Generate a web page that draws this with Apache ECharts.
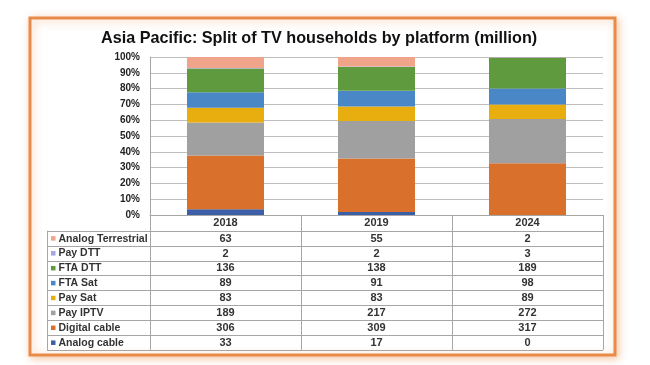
<!DOCTYPE html>
<html><head><meta charset="utf-8">
<script src="https://cdn.jsdelivr.net/npm/echarts@6/dist/echarts.min.js"></script>
<style>html,body{margin:0;padding:0;background:#fff}#c{width:650px;height:365px}</style>
</head><body><div id="c"></div>
<script>
// ---- data ----
const years = ['2018', '2019', '2024'];
const analogCable = [33, 17, 0];
const digitalCable = [306, 309, 317];
const payIPTV = [189, 217, 272];
const paySat = [83, 83, 89];
const ftaSat = [89, 91, 98];
const ftaDTT = [136, 138, 189];
const payDTT = [2, 2, 3];
const analogTerrestrial = [63, 55, 2];
const yTickValues = [0, 10, 20, 30, 40, 50, 60, 70, 80, 90, 100];

// stack order bottom -> top
const stackNames = ['Analog cable', 'Digital cable', 'Pay IPTV', 'Pay Sat', 'FTA Sat', 'FTA DTT', 'Pay DTT', 'Analog Terrestrial'];
const stackData = [analogCable, digitalCable, payIPTV, paySat, ftaSat, ftaDTT, payDTT, analogTerrestrial];
const stackColors = ['#3B5EA6', '#D9702B', '#A0A0A0', '#E8AE10', '#4A87C6', '#5F9B3E', '#A3A6E0', '#F0A48A'];

// ---- layout ----
const W = 650, H = 365;
const gx0 = 150, gx1 = 603, gy0 = 57, gy1 = 215;
const headerH = 15.7, rowH = 14.9, legendX0 = 47;
const catW = (gx1 - gx0) / years.length;

const totals = years.map((_, i) => stackData.reduce((s, arr) => s + arr[i], 0));

const series = stackNames.map((name, k) => ({
  name, type: 'bar', stack: 'all', barWidth: '51%',
  itemStyle: { color: stackColors[k] },
  data: stackData[k].map((v, i) => v / totals[i] * 100),
  silent: true
}));

// ---- table graphics ----
const g = [];
const lineStyle = { stroke: '#A6A6A6', lineWidth: 1 };
const tableRows = stackNames.slice().reverse();
const tableData = stackData.slice().reverse();
const tableColors = stackColors.slice().reverse();
const tTop = gy1, rTop = gy1 + headerH, tBot = rTop + rowH * tableRows.length;
// frame
g.push({ type: 'rect', shape: { x: 30, y: 18, width: 585, height: 337 },
  style: { fill: '#fff', stroke: '#E98B48', lineWidth: 3, shadowBlur: 8, shadowColor: 'rgba(233,139,72,0.45)', shadowOffsetX: 2, shadowOffsetY: 2 }, z: -10 });
// horizontal lines
g.push({ type: 'line', shape: { x1: gx0, y1: tTop + 0.5, x2: gx1, y2: tTop + 0.5 }, style: lineStyle });
for (let r = 0; r <= tableRows.length; r++) {
  const y = Math.round(rTop + r * rowH) + 0.5;
  g.push({ type: 'line', shape: { x1: legendX0, y1: y, x2: gx1, y2: y }, style: lineStyle });
}
// vertical lines
for (let c = 0; c <= years.length; c++) {
  const x = Math.round(gx0 + c * catW) + 0.5;
  g.push({ type: 'line', shape: { x1: x, y1: c === 0 ? gy0 : tTop, x2: x, y2: tBot }, style: lineStyle });
}
g.push({ type: 'line', shape: { x1: legendX0 + 0.5, y1: rTop, x2: legendX0 + 0.5, y2: tBot }, style: lineStyle });
// header text
years.forEach((yr, c) => {
  g.push({ type: 'text', x: gx0 + (c + 0.5) * catW, y: tTop + headerH / 2 + 0.5,
    style: { text: yr, fill: '#333', font: 'bold 11px "Liberation Sans", Arial', textAlign: 'center', textVerticalAlign: 'middle' } });
});
// rows
tableRows.forEach((name, r) => {
  const cy = rTop + (r + 0.5) * rowH + 0.5;
  g.push({ type: 'rect', shape: { x: 51, y: cy - 2.5, width: 4.5, height: 4.5 }, style: { fill: tableColors[r] } });
  g.push({ type: 'text', x: 58.5, y: cy,
    style: { text: name, fill: '#333', font: 'bold 10.5px "Liberation Sans", Arial', textAlign: 'left', textVerticalAlign: 'middle' } });
  tableData[r].forEach((v, c) => {
    g.push({ type: 'text', x: gx0 + (c + 0.5) * catW, y: cy,
      style: { text: String(v), fill: '#333', font: 'bold 11px "Liberation Sans", Arial', textAlign: 'center', textVerticalAlign: 'middle' } });
  });
});

const chart = echarts.init(document.getElementById('c'), null, { renderer: 'canvas' });
chart.setOption({
  animation: false,
  backgroundColor: '#fff',
  title: { text: 'Asia Pacific: Split of TV households by platform (million)', left: 96, top: 26,
    textStyle: { fontFamily: '"Liberation Sans", Arial', fontWeight: 'bold', fontSize: 16.2, color: '#111' } },
  grid: { left: gx0, right: W - gx1, top: gy0, bottom: H - gy1, containLabel: false },
  xAxis: { type: 'category', data: years, axisLabel: { show: false }, axisTick: { show: false },
    axisLine: { lineStyle: { color: '#A6A6A6' } } },
  yAxis: { type: 'value', min: yTickValues[0], max: yTickValues[yTickValues.length - 1], interval: 10,
    axisLabel: { formatter: '{value}%', color: '#222', fontSize: 10, fontWeight: 'bold', fontFamily: '"Liberation Sans", Arial', margin: 10 },
    axisLine: { show: true, lineStyle: { color: '#A6A6A6' } },
    splitLine: { lineStyle: { color: '#BFBFBF' } } },
  series,
  graphic: g
});
</script></body></html>
